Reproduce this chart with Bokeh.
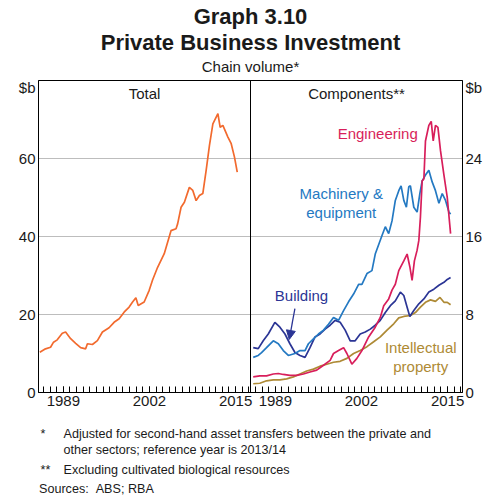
from bokeh.plotting import figure
from bokeh.layouts import column
from bokeh.models import Range1d, LinearAxis, FixedTicker, Span, Label, Arrow, NormalHead, Grid
from bokeh.embed import file_html
from bokeh.resources import INLINE
import numpy as np

FONT = "Liberation Sans"
X0 = 1985.25          # left edge of each panel (year)
PANEL = 32.0          # years shown per panel
RSCALE = 80.0 / 32.0  # right-axis ($b 0-32) onto left scale (0-80)

# ---- Total (left panel, $b) ----
total_year = [1985.45, 1986.31, 1987.07, 1987.52, 1988.08, 1988.84, 1989.34, 1990.10,
              1990.86, 1991.61, 1992.37, 1992.63, 1993.39, 1994.14, 1994.90, 1995.90,
              1996.66, 1997.42, 1998.17, 1998.93, 1999.45, 1999.95, 2000.30, 2001.20,
              2001.96, 2002.48, 2003.23, 2004.23, 2005.25, 2006.01, 2006.26, 2006.77,
              2007.27, 2008.02, 2008.54, 2009.04, 2009.54, 2010.05, 2010.55, 2011.05,
              2011.57, 2012.33, 2012.67, 2013.08, 2013.84, 2014.34, 2014.84, 2015.25]
total_val = [10.3, 11.2, 11.6, 12.9, 13.5, 15.2, 15.5, 13.8,
             12.6, 11.5, 11.2, 12.5, 12.3, 13.3, 15.5, 16.6,
             18.0, 18.9, 20.6, 21.9, 23.2, 24.3, 22.3, 23.2,
             26.2, 28.9, 32.1, 35.6, 41.5, 42.0, 43.3, 47.5,
             48.8, 52.6, 51.8, 49.2, 50.5, 51.0, 56.9, 63.3,
             68.9, 71.5, 68.0, 68.5, 65.5, 63.8, 60.3, 56.5]

# ---- Components (right panel, $b) ----
mach_year = [1985.66, 1986.42, 1986.92, 1987.67, 1988.69, 1989.45, 1990.20, 1990.96,
             1991.96, 1992.72, 1993.48, 1993.99, 1994.75, 1995.51, 1996.27, 1997.02,
             1997.78, 1998.54, 1999.30, 2000.05, 2000.81, 2001.57, 2002.07, 2002.83,
             2003.58, 2004.08, 2005.10, 2005.60, 2006.11, 2006.61, 2007.11, 2007.63,
             2007.98, 2008.39, 2008.78, 2009.14, 2009.39, 2009.90, 2010.40, 2010.81,
             2011.16, 2011.66, 2012.17, 2012.67, 2013.17, 2013.69, 2014.19, 2014.69,
             2015.20, 2015.45]
mach_val = [3.6, 3.8, 4.1, 4.6, 5.3, 5.0, 4.3, 3.8,
            4.0, 4.3, 4.3, 5.0, 5.5, 6.0, 6.4, 7.0,
            7.7, 7.4, 8.4, 9.3, 10.1, 11.1, 11.1, 12.2,
            12.5, 14.2, 16.1, 17.0, 16.3, 17.6, 19.7, 20.7,
            21.2, 19.7, 19.0, 21.1, 21.2, 19.0, 18.5, 20.4,
            21.7, 22.3, 22.8, 21.6, 20.7, 19.4, 20.4, 19.7,
            18.5, 18.3]

eng_year = [1985.66, 1986.66, 1987.67, 1988.69, 1989.45, 1990.20, 1991.20, 1992.22,
            1993.23, 1994.23, 1995.25, 1996.27, 1997.27, 1997.78, 1998.54, 1999.30,
            1999.80, 2000.55, 2001.31, 2002.07, 2003.08, 2004.08, 2004.84, 2005.36,
            2006.11, 2006.61, 2007.11, 2007.63, 2008.39, 2008.89, 2009.30, 2009.64,
            2009.99, 2010.40, 2010.66, 2010.90, 2011.16, 2011.42, 2011.66, 2012.17,
            2012.53, 2012.83, 2013.17, 2013.54, 2013.93, 2014.45, 2014.95, 2015.45]
eng_val = [1.6, 1.7, 1.7, 1.9, 1.95, 1.85, 1.75, 1.75,
           1.9, 2.1, 2.3, 2.8, 3.3, 4.0, 4.3, 4.6,
           4.0, 2.9, 3.5, 4.3, 5.7, 6.7, 7.7, 8.9,
           9.6, 10.5, 11.1, 12.5, 13.5, 14.2, 12.9, 11.5,
           13.5, 14.6, 15.6, 18.0, 21.7, 21.9, 25.8, 27.4,
           27.8, 25.8, 27.4, 27.2, 24.8, 22.3, 20.0, 16.3]

bld_year = [1985.66, 1986.42, 1987.17, 1987.93, 1988.93, 1989.69, 1990.45, 1991.20,
            1991.96, 1992.72, 1993.48, 1994.23, 1994.99, 1995.75, 1996.51, 1997.27,
            1998.02, 1998.78, 1999.54, 2000.30, 2001.05, 2001.81, 2002.57, 2003.33,
            2004.08, 2004.84, 2005.60, 2006.36, 2007.11, 2007.87, 2008.39, 2008.89,
            2009.30, 2009.90, 2010.66, 2011.42, 2012.17, 2012.93, 2013.69, 2014.45,
            2014.95, 2015.45]
bld_val = [4.6, 4.5, 5.3, 6.0, 7.2, 6.7, 6.0, 5.0,
           4.1, 3.8, 3.6, 4.6, 5.7, 6.0, 6.5, 6.9,
           7.4, 7.2, 6.4, 5.3, 5.3, 6.0, 6.2, 6.5,
           6.9, 7.4, 8.2, 8.9, 9.4, 10.3, 9.95, 8.75,
           7.8, 8.4, 9.1, 9.6, 10.3, 10.6, 11.0, 11.3,
           11.6, 11.8]

ip_year = [1985.66, 1986.66, 1987.67, 1988.69, 1989.69, 1990.70, 1991.72, 1992.72,
           1993.73, 1994.75, 1995.75, 1996.77, 1997.78, 1998.78, 1999.80, 2000.81,
           2001.81, 2002.83, 2003.84, 2004.84, 2005.86, 2006.87, 2007.63, 2008.39,
           2009.39, 2010.14, 2010.90, 2011.66, 2012.42, 2013.17, 2013.85, 2014.45,
           2014.95, 2015.45]
ip_val = [0.9, 0.95, 1.2, 1.3, 1.3, 1.4, 1.6, 1.9,
          2.2, 2.4, 2.7, 2.9, 3.1, 3.2, 3.5, 4.0,
          4.3, 4.7, 5.2, 5.7, 6.4, 7.05, 7.65, 7.8,
          7.9, 8.2, 8.75, 9.25, 9.5, 9.35, 9.75, 9.25,
          9.25, 9.0]

left_ticks = [0, 20, 40, 60]
right_ticks = [0, 8, 16, 24]
year_labels = [1989, 2002, 2015]

ORANGE = "#f26a2e"
CRIMSON = "#d81e5b"
LBLUE = "#2479c2"
NAVY = "#2b3595"
GOLD = "#ae8a35"
TXT = "#1a1a1a"

W = 503
HEAD_H = 78
MAIN_H = 336
FOOT_H = W - HEAD_H - MAIN_H
FRAME_L, FRAME_R = 38, 462   # plot frame edges in page pixels (column aligns frames)


def lx(years):
    return np.asarray(years) - X0


def rx(years):
    return np.asarray(years) - X0 + PANEL


def text_panel(h):
    f = figure(width=W, height=h, output_backend="svg", toolbar_location=None,
               x_range=Range1d(FRAME_L, FRAME_R), y_range=Range1d(h, 0),
               x_axis_type=None, y_axis_type=None, min_border_top=0, min_border_bottom=0,
               min_border_left=FRAME_L, min_border_right=W - FRAME_R)
    f.outline_line_color = None
    f.background_fill_color = "white"
    f.border_fill_color = "white"
    return f


def put(fig, x, y, text, size="15px", color=TXT, align="center", bold=False):
    fig.add_layout(Label(x=x, y=y, text=text, text_font=FONT, text_font_size=size,
                         text_color=color, text_align=align, text_baseline="middle",
                         text_font_style="bold" if bold else "normal"))


# ---------- header ----------
head = text_panel(HEAD_H)
put(head, 250, 16, "Graph 3.10", size="22px", bold=True)
put(head, 250, 42, "Private Business Investment", size="22px", bold=True)
put(head, 250, 66, "Chain volume*", size="15px")

# ---------- main chart ----------
p = figure(width=W, height=MAIN_H, output_backend="svg", toolbar_location=None,
           x_range=Range1d(0, 2 * PANEL), y_range=Range1d(0, 80),
           x_axis_type=None, y_axis_type=None,
           min_border_left=FRAME_L, min_border_right=W - FRAME_R, min_border_top=80 - HEAD_H,
           min_border_bottom=MAIN_H - (392 - HEAD_H))
p.extra_y_ranges = {"r": Range1d(0, 32)}
p.outline_line_color = "black"
p.outline_line_alpha = 1.0
p.outline_line_width = 1
p.background_fill_color = "white"
p.border_fill_color = "white"

p.add_layout(Grid(dimension=1, ticker=FixedTicker(ticks=[20, 40, 60]),
                  grid_line_color="#bdbdbd", grid_line_width=1))


def style_axis(ax):
    ax.axis_line_color = "black"
    ax.major_label_text_font = FONT
    ax.major_label_text_font_size = "15px"
    ax.major_label_text_color = TXT
    ax.major_tick_out = 0
    ax.minor_tick_out = 0


# "$b" unit labels sit just under the top edge, written as the top tick label
UNIT_POS = 78.2
la = LinearAxis(ticker=FixedTicker(ticks=left_ticks + [UNIT_POS]),
                major_label_overrides={UNIT_POS: "$b"})
style_axis(la)
la.major_tick_in = 0
la.major_label_standoff = 3
p.add_layout(la, "left")

ra = LinearAxis(y_range_name="r", ticker=FixedTicker(ticks=right_ticks + [UNIT_POS / RSCALE]),
                major_label_overrides={UNIT_POS / RSCALE: "$b"})
style_axis(ra)
ra.major_tick_in = 0
ra.major_label_standoff = 3
p.add_layout(ra, "right")

major = [y - X0 for y in year_labels] + [y - X0 + PANEL for y in year_labels]
minor = [k + (np.ceil(X0) - X0) for k in range(int(PANEL))]
minor = minor + [m + PANEL for m in minor]
overrides = {m: str(y) for m, y in zip(major, year_labels + year_labels)}
ba = LinearAxis(ticker=FixedTicker(ticks=major, minor_ticks=minor),
                major_label_overrides=overrides)
style_axis(ba)
ba.major_tick_in = 6
ba.minor_tick_in = 6
ba.major_label_standoff = 3
p.add_layout(ba, "below")

# panel separator
p.add_layout(Span(location=PANEL, dimension="height", line_color="black", line_width=1))

# series
p.line(lx(total_year), total_val, line_color=ORANGE, line_width=1.7)
p.line(rx(ip_year), np.asarray(ip_val) * RSCALE, line_color=GOLD, line_width=1.7)
p.line(rx(bld_year), np.asarray(bld_val) * RSCALE, line_color=NAVY, line_width=1.7)
p.line(rx(mach_year), np.asarray(mach_val) * RSCALE, line_color=LBLUE, line_width=1.7)
p.line(rx(eng_year), np.asarray(eng_val) * RSCALE, line_color=CRIMSON, line_width=1.7)

put(p, PANEL / 2, 76.6, "Total")
put(p, PANEL * 1.5, 76.6, "Components**")

# series labels
put(p, 51.2, 66.4, "Engineering", color=CRIMSON)
put(p, 45.7, 51.0, "Machinery &", color=LBLUE)
put(p, 45.7, 46.1, "equipment", color=LBLUE)
put(p, 39.7, 24.9, "Building", color=NAVY)
put(p, 57.7, 11.5, "Intellectual", color=GOLD)
put(p, 57.7, 6.7, "property", color=GOLD)

p.add_layout(Arrow(end=NormalHead(size=9, fill_color=NAVY, line_color=NAVY),
                   x_start=38.7, y_start=21.5, x_end=37.85, y_end=13.6,
                   line_color=NAVY, line_width=1.3))

# ---------- footer ----------
foot = text_panel(FOOT_H)
FS = "12.6px"
top = HEAD_H + MAIN_H
put(foot, 40, 433 - top, "*", size=FS, align="left")
put(foot, 63, 433 - top, "Adjusted for second-hand asset transfers between the private and", size=FS, align="left")
put(foot, 63, 449 - top, "other sectors; reference year is 2013/14", size=FS, align="left")
put(foot, 40, 469 - top, "**", size=FS, align="left")
put(foot, 63, 469 - top, "Excluding cultivated biological resources", size=FS, align="left")
put(foot, 38.5, 488 - top, "Sources:\u00a0\u00a0ABS; RBA", size=FS, align="left")

layout = column(head, p, foot, spacing=0)
open("out.html", "w").write(file_html(layout, INLINE))
